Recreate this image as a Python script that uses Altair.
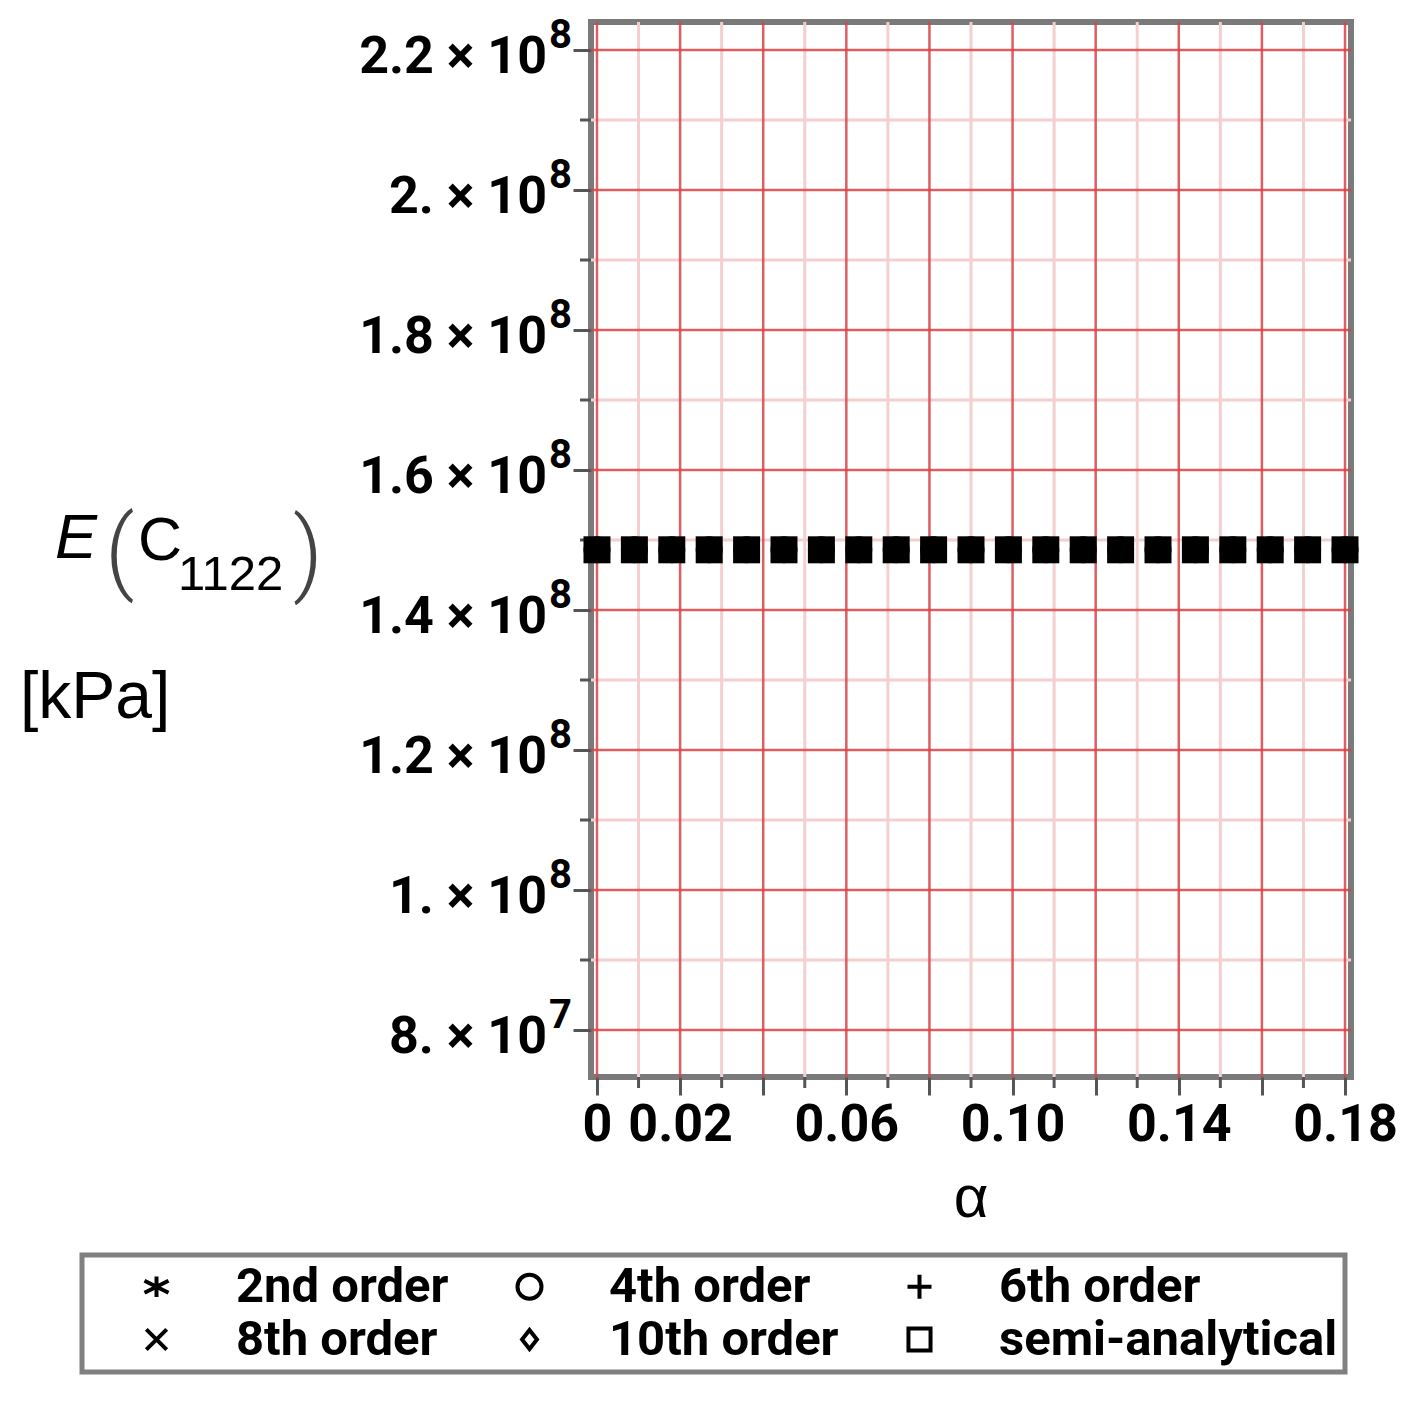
import altair as alt
import pandas as pd

# ---------------- data ----------------
alpha = [0.000, 0.009, 0.018, 0.027, 0.036, 0.045, 0.054, 0.063, 0.072, 0.081, 0.090,
         0.099, 0.108, 0.117, 0.126, 0.135, 0.144, 0.153, 0.162, 0.171, 0.180]

e_2nd = [1.486e8, 1.486e8, 1.486e8, 1.486e8, 1.486e8, 1.486e8, 1.486e8, 1.486e8, 1.486e8, 1.486e8, 1.486e8,
         1.486e8, 1.486e8, 1.486e8, 1.486e8, 1.486e8, 1.486e8, 1.486e8, 1.486e8, 1.486e8, 1.486e8]
e_4th = [1.486e8, 1.486e8, 1.486e8, 1.486e8, 1.486e8, 1.486e8, 1.486e8, 1.486e8, 1.486e8, 1.486e8, 1.486e8,
         1.486e8, 1.486e8, 1.486e8, 1.486e8, 1.486e8, 1.486e8, 1.486e8, 1.486e8, 1.486e8, 1.486e8]
e_6th = [1.486e8, 1.486e8, 1.486e8, 1.486e8, 1.486e8, 1.486e8, 1.486e8, 1.486e8, 1.486e8, 1.486e8, 1.486e8,
         1.486e8, 1.486e8, 1.486e8, 1.486e8, 1.486e8, 1.486e8, 1.486e8, 1.486e8, 1.486e8, 1.486e8]
e_8th = [1.486e8, 1.486e8, 1.486e8, 1.486e8, 1.486e8, 1.486e8, 1.486e8, 1.486e8, 1.486e8, 1.486e8, 1.486e8,
         1.486e8, 1.486e8, 1.486e8, 1.486e8, 1.486e8, 1.486e8, 1.486e8, 1.486e8, 1.486e8, 1.486e8]
e_10th = [1.486e8, 1.486e8, 1.486e8, 1.486e8, 1.486e8, 1.486e8, 1.486e8, 1.486e8, 1.486e8, 1.486e8, 1.486e8,
          1.486e8, 1.486e8, 1.486e8, 1.486e8, 1.486e8, 1.486e8, 1.486e8, 1.486e8, 1.486e8, 1.486e8]
e_semi = [1.486e8, 1.486e8, 1.486e8, 1.486e8, 1.486e8, 1.486e8, 1.486e8, 1.486e8, 1.486e8, 1.486e8, 1.486e8,
          1.486e8, 1.486e8, 1.486e8, 1.486e8, 1.486e8, 1.486e8, 1.486e8, 1.486e8, 1.486e8, 1.486e8]

series_names = ["2nd order", "4th order", "6th order", "8th order", "10th order", "semi-analytical"]
series_values = [e_2nd, e_4th, e_6th, e_8th, e_10th, e_semi]

x_major = [0.0, 0.02, 0.04, 0.06, 0.08, 0.10, 0.12, 0.14, 0.16, 0.18]
x_minor = [0.01, 0.03, 0.05, 0.07, 0.09, 0.11, 0.13, 0.15, 0.17]
x_label_values = [0.0, 0.02, 0.06, 0.10, 0.14, 0.18]
x_label_text = ["0", "0.02", "0.06", "0.10", "0.14", "0.18"]

y_major = [0.8e8, 1.0e8, 1.2e8, 1.4e8, 1.6e8, 1.8e8, 2.0e8, 2.2e8]
y_minor = [0.9e8, 1.1e8, 1.3e8, 1.5e8, 1.7e8, 1.9e8, 2.1e8]
y_label_mantissa = ["8.", "1.", "1.2", "1.4", "1.6", "1.8", "2.", "2.2"]
y_label_exponent = ["7", "8", "8", "8", "8", "8", "8", "8"]

# ---------------- tables ----------------
rows = []
for name, vals in zip(series_names, series_values):
    for a, v in zip(alpha, vals):
        rows.append({"alpha": a, "E": v, "series": name})
df = pd.DataFrame(rows)
df_semi = df[df["series"] == "semi-analytical"]

df_xmaj = pd.DataFrame({"v": x_major})
df_xmin = pd.DataFrame({"v": x_minor})
df_ymaj = pd.DataFrame({"v": y_major})
df_ymin = pd.DataFrame({"v": y_minor})
df_ylab = pd.DataFrame({"v": y_major,
                        "main": [m + " \u00d7 10" for m in y_label_mantissa],
                        "exp": y_label_exponent})
one = pd.DataFrame({"a": [0]})

# ---------------- scales & axes ----------------
W, H = 760, 1055
xscale = alt.Scale(domain=[-0.00144, 0.18144], nice=False, zero=False)
yscale = alt.Scale(domain=[0.73286e8, 2.24e8], nice=False, zero=False)

label_expr = " : ".join(
    f"abs(datum.value - {v}) < 1e-9 ? '{t}'" for v, t in zip(x_label_values, x_label_text)
) + " : ''"

X_AX = alt.Axis(values=x_major, tickSize=18, tickWidth=3, tickColor="#555555",
                domain=False, grid=False, labelExpr=label_expr, labelFont="Roboto",
                labelFontWeight="bold", labelFontSize=52, labelColor="black",
                labelPadding=4, labelOverlap=False, labelFlush=False, title=None)
Y_AX = alt.Axis(values=y_major, tickSize=18, tickWidth=3, tickColor="#555555",
                domain=False, grid=False, labels=False, title=None)


def X(field="v"):
    return alt.X(f"{field}:Q", scale=xscale, axis=X_AX)


def Y(field="v"):
    return alt.Y(f"{field}:Q", scale=yscale, axis=Y_AX)


MINOR = "#f4cfcf"
MAJOR = "#d94247"

layers = [
    alt.Chart(df_xmin).mark_rule(color=MINOR, strokeWidth=3).encode(x=X()),
    alt.Chart(df_ymin).mark_rule(color=MINOR, strokeWidth=3).encode(y=Y()),
    alt.Chart(df_xmaj).mark_rule(color=MAJOR, strokeWidth=2.5, opacity=0.85).encode(x=X()),
    alt.Chart(df_ymaj).mark_rule(color=MAJOR, strokeWidth=2.5, opacity=0.85).encode(y=Y()),
    # minor ticks
    alt.Chart(df_xmin).mark_rule(color="#555555", strokeWidth=3).encode(
        x=X(), y=alt.value(H), y2=alt.value(H + 11)),
    alt.Chart(df_ymin).mark_rule(color="#555555", strokeWidth=3).encode(
        y=Y(), x=alt.value(-11), x2=alt.value(0)),
]

shape_range = [
    "M0,-0.85L0,0.85M-1,-0.5L1,0.5M-1,0.5L1,-0.5",
    "circle",
    "M-1,0L1,0M0,-1L0,1",
    "M-0.85,-0.85L0.85,0.85M-0.85,0.85L0.85,-0.85",
    "M0,-0.8L0.62,0L0,0.8L-0.62,0Z",
    "M-0.92,-0.92L0.92,-0.92L0.92,0.92L-0.92,0.92Z",
]

points = alt.Chart(df).mark_point(filled=False, strokeWidth=3, size=576, color="black",
                                  opacity=1).encode(
    x=X("alpha"), y=Y("E"),
    shape=alt.Shape("series:N",
                    scale=alt.Scale(domain=series_names, range=shape_range),
                    legend=alt.Legend(orient="none", legendX=-509, legendY=1233, columns=3,
                                      direction="horizontal",
                                      title=None, labelFont="Roboto", labelFontWeight="bold",
                                      labelFontSize=49, labelColor="black", labelLimit=600,
                                      symbolSize=576, symbolStrokeWidth=4,
                                      symbolStrokeColor="black", symbolOffset=43,
                                      labelOffset=55, padding=7, rowPadding=3,
                                      columnPadding=13, strokeColor="#808080")),
)
squares = alt.Chart(df_semi).mark_square(size=729, color="black", opacity=1).encode(
    x=X("alpha"), y=Y("E"))
layers += [points, squares]

# y tick labels (mantissa x 10 with superscript exponent)
layers += [
    alt.Chart(df_ylab).mark_text(align="right", baseline="alphabetic", dy=23, font="Roboto",
                                 fontWeight="bold", fontSize=52, color="black").encode(
        x=alt.value(-44), y=Y(), text="main:N"),
    alt.Chart(df_ylab).mark_text(align="left", baseline="alphabetic", dy=-2, font="Roboto",
                                 fontWeight="bold", fontSize=40, color="black").encode(
        x=alt.value(-42), y=Y(), text="exp:N"),
]


def label(text, x, y, size, style="normal", color="black", align="left",
          font="Liberation Sans", weight="normal"):
    return alt.Chart(one).mark_text(align=align, baseline="alphabetic", font=font,
                                    fontSize=size, fontStyle=style, fontWeight=weight,
                                    color=color).encode(
        x=alt.value(x), y=alt.value(y), text=alt.value(text))


layers += [
    label("E", -536, 536, 63, style="italic"),
    label("(", -486, 560, 92, color="#444444", font="Roboto", weight=300),
    label("C", -453, 538, 61),
    label("1122", -413, 568, 49),
    label(")", -298, 562, 92, color="#444444", font="Roboto", weight=300),
    label("[kPa]", -571, 696, 66),
    label("\u03b1", 380, 1195, 60, align="center"),
]

chart = alt.layer(*layers).properties(
    width=W, height=H,
    autosize=alt.AutoSizeParams(type="none"),
    padding={"left": 583, "top": 14, "right": 60, "bottom": 310},
).configure_view(
    stroke="#7a7a7a", strokeWidth=6
).configure_legend(
    strokeWidth=5
)

chart.save("out.html", embed_options={"renderer": "svg", "actions": False})
